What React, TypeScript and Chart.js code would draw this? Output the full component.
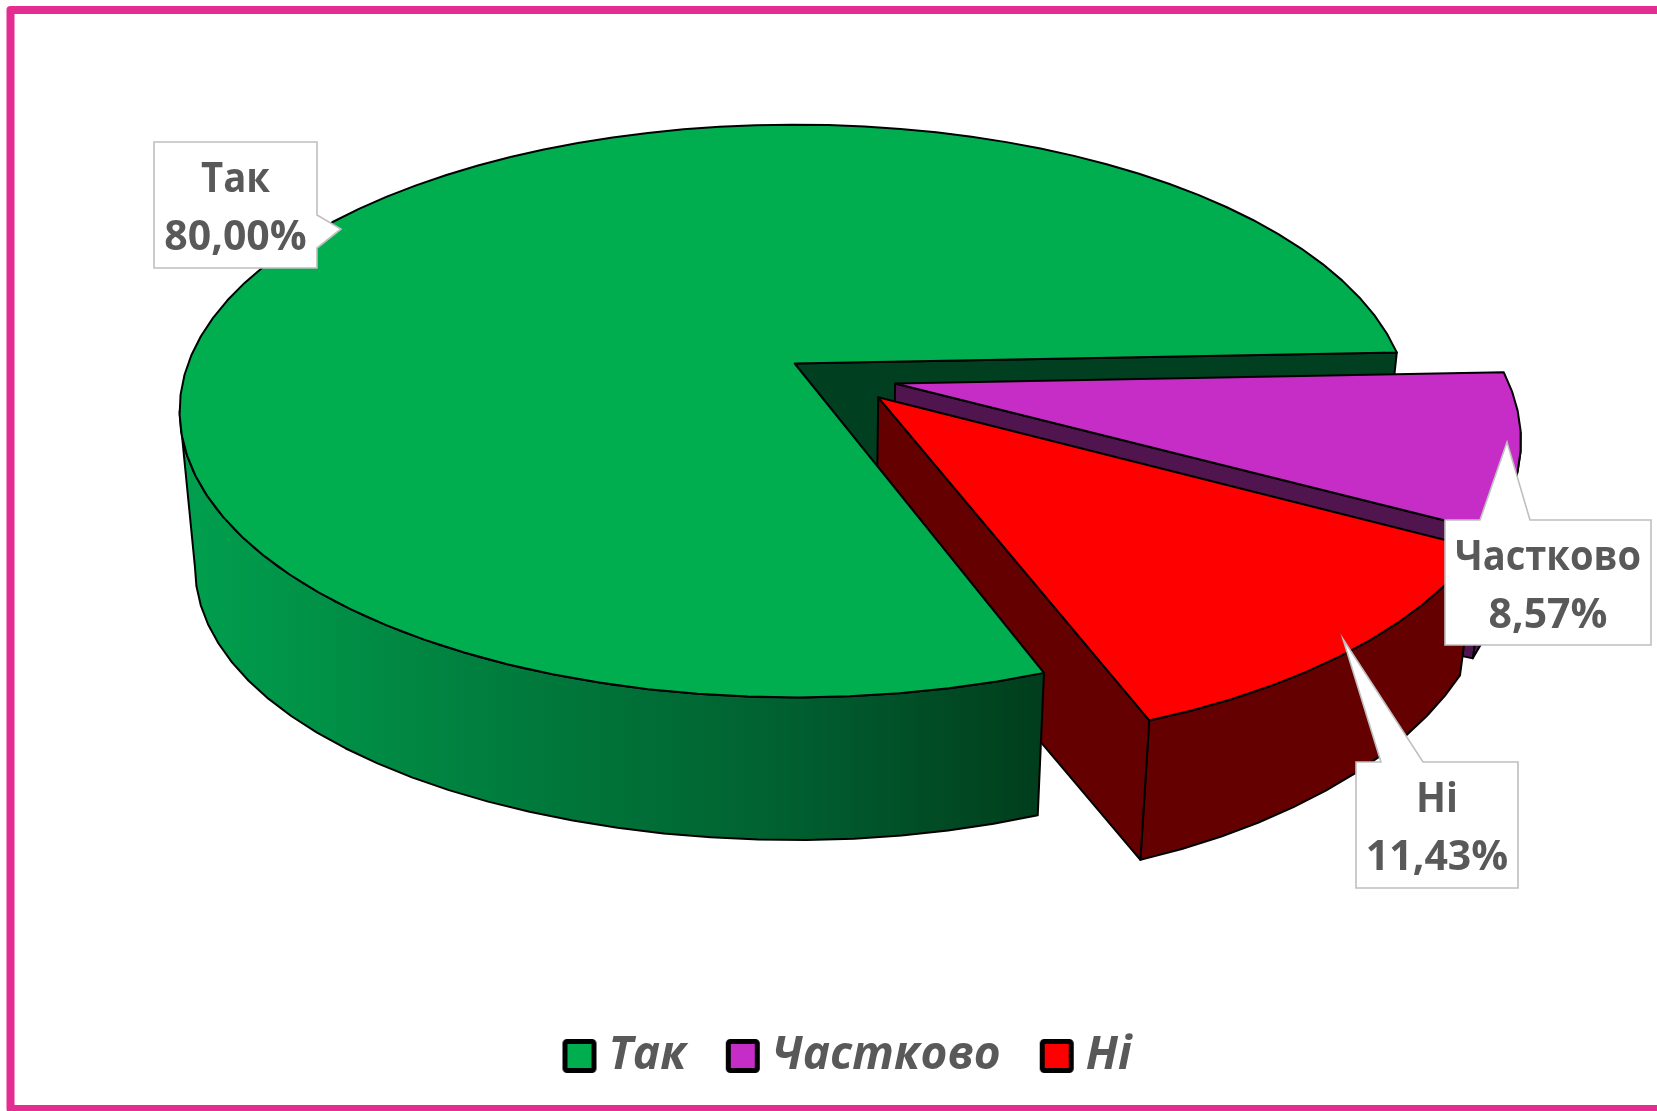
import React, { useEffect, useRef } from "react";
import { Chart, registerables } from "chart.js";

Chart.register(...registerables);

const categories = ["Так", "Частково", "Ні"];
const shares = [80.0, 8.57, 11.43];
const topColors = ["#00AE50", "#C62CC6", "#FF0000"];
const wallColors = ["#004020", "#50144F", "#640000"];

const FONT = "'Open Sans', 'Noto Sans', sans-serif";
const TEXT = "#595959";

// 3-D view of the disc, in page pixels
const VIEW = { ax: 794.7, ay: 363.5, A: 606.6, B: 278.5, k: 0.166, depth: 151, shrink: 0.975, sagLeft: 2.5e-8, sagRight: 6e-8 };
const EXPLODE = [[0, 0], [0.1636, 0.0711], [0.135, 0.119]];
const FACING = [9.6, 170.4];
const RIM_STEP = 4;
const DEG = Math.PI / 180;

const CALLOUTS = [
  { box: [154, 142, 317, 268], tail: [[317, 215], [341, 229], [317, 248]], baselines: [192, 250], nameWidth: 69 },
  { box: [1445, 520, 1651, 645], tail: [[1480, 520], [1507, 442], [1530, 520]], baselines: [570, 628], nameWidth: 186 },
  { box: [1356, 762, 1518, 888], tail: [[1381, 762], [1343, 639], [1423, 762]], baselines: [812, 870], nameWidth: 42 },
];

const top3d = (u: number, v: number) => {
  const w = 1 - VIEW.k * v;
  return [VIEW.ax + (VIEW.A * u) / w, VIEW.ay + (VIEW.B * v) / w];
};
const low3d = (p: number[]) => {
  const dx = p[0] - VIEW.ax;
  const sag = (dx < 0 ? VIEW.sagLeft : VIEW.sagRight) * dx * dx * dx;
  return [VIEW.ax + VIEW.shrink * dx, VIEW.ay + VIEW.depth - sag + VIEW.shrink * (p[1] - VIEW.ay)];
};
const rim = (deg: number, e: number[]) => top3d(e[0] + Math.cos(deg * DEG), e[1] + Math.sin(deg * DEG));

const poly = (ctx: CanvasRenderingContext2D, pts: number[][], fill: any) => {
  ctx.beginPath();
  pts.forEach((p, i) => (i ? ctx.lineTo(p[0], p[1]) : ctx.moveTo(p[0], p[1])));
  ctx.closePath();
  ctx.fillStyle = fill;
  ctx.fill();
  ctx.lineJoin = "round";
  ctx.lineWidth = 2;
  ctx.strokeStyle = "#000000";
  ctx.stroke();
};

const arcPts = (from: number, to: number, e: number[]) => {
  const out: number[][] = [];
  const n = Math.max(2, Math.ceil((to - from) / RIM_STEP));
  for (let i = 0; i <= n; i++) out.push(rim(from + ((to - from) * i) / n, e));
  return out;
};

const pie3d = {
  id: "pie3d",
  beforeDraw(chart: any) {
    const { ctx, width, height } = chart;
    ctx.save();
    ctx.fillStyle = "#FFFFFF";
    ctx.fillRect(0, 0, width, height);
    ctx.strokeStyle = "#E52D91";
    ctx.lineWidth = 8;
    ctx.lineJoin = "round";
    ctx.beginPath();
    ctx.moveTo(width + 10, 10);
    ctx.lineTo(10.5, 10);
    ctx.lineTo(10.5, 1109);
    ctx.lineTo(width + 10, 1109);
    ctx.stroke();
    ctx.restore();
  },
  beforeDatasetsDraw(chart: any) {
    const { ctx } = chart;
    const arcs = chart.getDatasetMeta(0).data.map((a: any) => {
      const p = a.getProps(["startAngle", "endAngle"], true);
      return { start: p.startAngle / DEG, end: p.endAngle / DEG };
    });
    const endWall = (i: number) => {
      const e = EXPLODE[i];
      const apex = top3d(e[0], e[1]);
      const r = rim(arcs[i].end, e);
      poly(ctx, [apex, r, low3d(r), low3d(apex)], wallColors[i]);
    };
    const outerWall = (i: number) => {
      const e = EXPLODE[i];
      for (const turn of [0, 360]) {
        const lo = Math.max(arcs[i].start, FACING[0] + turn);
        const hi = Math.min(arcs[i].end, FACING[1] + turn);
        if (hi <= lo) continue;
        const pts = arcPts(lo, hi, e);
        let fill: any = wallColors[i];
        if (i === 0) {
          const g = ctx.createLinearGradient(180, 0, 1045, 0);
          g.addColorStop(0, "#00A04E");
          g.addColorStop(0.35, "#007F3E");
          g.addColorStop(0.7, "#006030");
          g.addColorStop(1, "#003D1C");
          fill = g;
        }
        poly(ctx, [...pts, ...pts.slice().reverse().map(low3d)], fill);
      }
    };
    const topFace = (i: number) => {
      const e = EXPLODE[i];
      poly(ctx, [top3d(e[0], e[1]), ...arcPts(arcs[i].start, arcs[i].end, e)], topColors[i]);
    };
    ctx.save();
    endWall(0);
    for (const i of [1, 2]) {
      outerWall(i);
      endWall(i);
      topFace(i);
    }
    outerWall(0);
    topFace(0);
    ctx.restore();
    return false;
  },
  afterDraw(chart: any) {
    const { ctx } = chart;
    ctx.save();
    CALLOUTS.forEach((c, i) => {
      const [x0, y0, x1, y1] = c.box;
      const t = c.tail;
      const pts =
        i === 0
          ? [[x0, y0], [x1, y0], ...t, [x1, y1], [x0, y1]]
          : [[x0, y0], ...t, [x1, y0], [x1, y1], [x0, y1]];
      ctx.beginPath();
      pts.forEach((p, j) => (j ? ctx.lineTo(p[0], p[1]) : ctx.moveTo(p[0], p[1])));
      ctx.closePath();
      ctx.fillStyle = "#FFFFFF";
      ctx.fill();
      ctx.lineWidth = 1.6;
      ctx.lineJoin = "miter";
      ctx.strokeStyle = "#BFBFBF";
      ctx.stroke();
      ctx.fillStyle = TEXT;
      ctx.textAlign = "center";
      ctx.textBaseline = "alphabetic";
      ctx.font = `bold 41px ${FONT}`;
      const cx = (x0 + x1) / 2;
      ctx.fillText(categories[i], cx, c.baselines[0], c.nameWidth);
      ctx.fillText(shares[i].toFixed(2).replace(".", ",") + "%", cx, c.baselines[1]);
    });
    ctx.restore();
  },
};

const swatch = (color: string) => {
  const c = document.createElement("canvas");
  c.width = 36;
  c.height = 36;
  const g = c.getContext("2d")!;
  g.beginPath();
  g.roundRect(3.5, 3.5, 29, 29, 2);
  g.fillStyle = color;
  g.fill();
  g.lineWidth = 5;
  g.strokeStyle = "#000000";
  g.stroke();
  return c;
};

export default function App() {
  const ref = useRef<HTMLCanvasElement | null>(null);
  useEffect(() => {
    const chart = new Chart(ref.current!, {
      type: "pie",
      data: {
        labels: categories,
        datasets: [{ data: shares, backgroundColor: topColors, borderColor: "#000000", borderWidth: 2 }],
      },
      plugins: [pie3d],
      options: {
        responsive: false,
        animation: false,
        rotation: 159.7,
        layout: { padding: { left: 48, bottom: 22 } },
        plugins: {
          tooltip: { enabled: false },
          legend: {
            display: true,
            position: "bottom",
            onClick: () => {},
            labels: {
              color: TEXT,
              font: { family: FONT, size: 46, weight: "bold", style: "italic" },
              usePointStyle: true,
              pointStyleWidth: 12,
              padding: 50,
              generateLabels: () =>
                categories.map((text, i) => ({
                  text,
                  fontColor: TEXT,
                  fillStyle: topColors[i],
                  strokeStyle: "#000000",
                  pointStyle: swatch(topColors[i]),
                  hidden: false,
                  index: i,
                })),
            },
          },
        },
      },
    } as any);
    return () => chart.destroy();
  }, []);
  return (
    <div style={{ position: "absolute", left: 0, top: 0, width: 1657, height: 1111, overflow: "hidden" }}>
      <canvas ref={ref} width={1657} height={1111} style={{ display: "block" }} />
    </div>
  );
}
